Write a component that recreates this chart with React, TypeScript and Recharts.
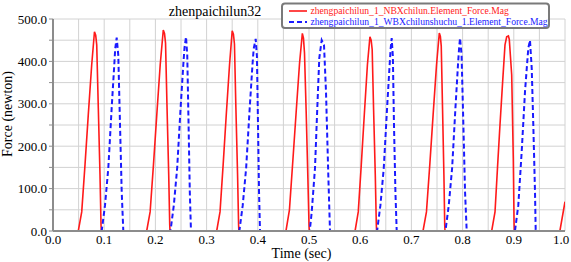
import { CartesianGrid, Line, LineChart, XAxis, YAxis } from 'recharts'

// time (sec), force (newton)
const nbxForce: [number, number][] = [
  [0, 0],
  [0.0494, 0], [0.0561, 45], [0.0625, 156], [0.0689, 274], [0.0756, 392], [0.081, 470],
  [0.0834, 462], [0.0854, 439], [0.0885, 290], [0.0918, 132], [0.0938, 14], [0.0943, 0],
  [0.183, 0], [0.1897, 45], [0.1962, 156], [0.2027, 274], [0.2094, 392], [0.2154, 474],
  [0.2178, 466], [0.2198, 443], [0.2227, 292], [0.226, 133], [0.228, 14], [0.2285, 0],
  [0.3197, 0], [0.3262, 45], [0.3323, 156], [0.3384, 274], [0.3448, 392], [0.35, 472],
  [0.3524, 464], [0.3544, 441], [0.3572, 291], [0.3605, 132], [0.3625, 14], [0.363, 0],
  [0.455, 0], [0.4618, 50], [0.4684, 165], [0.4749, 280], [0.4815, 395], [0.487, 466],
  [0.4892, 455], [0.4912, 420], [0.4945, 280], [0.4978, 125], [0.5, 14], [0.5006, 0],
  [0.59, 0], [0.5962, 45], [0.6021, 156], [0.608, 274], [0.6141, 392], [0.619, 458],
  [0.6214, 450], [0.6234, 428], [0.6262, 285], [0.6295, 130], [0.6315, 14], [0.632, 0],
  [0.7227, 0], [0.7294, 45], [0.7359, 156], [0.7424, 274], [0.7491, 392], [0.7545, 467],
  [0.7566, 459], [0.7583, 436], [0.7608, 290], [0.7635, 132], [0.7651, 14], [0.7656, 0],
  [0.8568, 0], [0.8633, 45], [0.8682, 150], [0.873, 250], [0.8781, 350], [0.8828, 439],
  [0.8861, 458], [0.8895, 460], [0.8912, 452], [0.8959, 368], [0.899, 172], [0.9005, 20], [0.901, 0],
  [0.99, 0], [1.0, 69],
]

const wbxForce: [number, number][] = [
  [0, 0],
  [0.0951, 0], [0.1016, 61], [0.108, 148], [0.1146, 290], [0.1197, 392], [0.1215, 430],
  [0.1244, 456], [0.1275, 415], [0.1309, 250], [0.1342, 92], [0.1373, 0],
  [0.2295, 0], [0.236, 61], [0.2425, 148], [0.2492, 290], [0.2545, 392], [0.2568, 432],
  [0.2598, 458], [0.2622, 415], [0.2648, 250], [0.2672, 92], [0.2695, 0],
  [0.364, 0], [0.3706, 61], [0.3772, 148], [0.3842, 290], [0.3896, 392], [0.392, 430],
  [0.3959, 453], [0.3983, 412], [0.4004, 250], [0.4024, 92], [0.4043, 0],
  [0.5015, 0], [0.5053, 45], [0.5117, 148], [0.5162, 290], [0.5201, 408], [0.5248, 450],
  [0.5293, 439], [0.5332, 329], [0.5377, 132], [0.541, 0],
  [0.633, 0], [0.6395, 61], [0.646, 148], [0.6525, 290], [0.6575, 392], [0.6595, 430],
  [0.6615, 455], [0.6638, 412], [0.666, 250], [0.6688, 92], [0.6713, 0],
  [0.7665, 0], [0.773, 61], [0.7795, 148], [0.786, 290], [0.791, 392], [0.7932, 432],
  [0.795, 455], [0.798, 415], [0.8015, 250], [0.8048, 92], [0.808, 0],
  [0.9023, 0], [0.9088, 61], [0.9154, 187], [0.9219, 329], [0.9283, 431], [0.9316, 450],
  [0.935, 384], [0.9381, 250], [0.9414, 93], [0.9428, 0],
  [1.0, 0],
]

const xTicks = [0, 0.05, 0.1, 0.15, 0.2, 0.25, 0.3, 0.35, 0.4, 0.45, 0.5, 0.55, 0.6, 0.65, 0.7, 0.75, 0.8, 0.85, 0.9, 0.95, 1.0]
const yTicks = [0, 50, 100, 150, 200, 250, 300, 350, 400, 450, 500]

const title = 'zhenpaichilun32'
const nbxName = 'zhengpaichilun_1_NBXchilun.Element_Force.Mag'
const wbxName = 'zhengpaichilun_1_WBXchilunshuchu_1.Element_Force.Mag'

const FONT = '"Liberation Serif", "Times New Roman", serif'
const AXIS = '#8c8c8c'

const toRows = (pts: [number, number][]) => pts.map(([t, f]) => ({ t, f }))

function TimeTick(props: any) {
  const { x, y, payload } = props
  const v: number = payload.value
  if (Math.round(v * 100) % 10 !== 0) return null
  // last label sits on the window edge, nudge it in
  const dx = v >= 1 ? -4 : 0
  return (
    <text x={x + dx} y={y} dy="0.71em" textAnchor="middle" fontFamily={FONT} fontSize={13} fill="#000">
      {v.toFixed(1)}
    </text>
  )
}

export default function App() {
  const tickStyle = { fontSize: 13, fontFamily: FONT, fill: '#000' }
  return (
    <div style={{ position: 'absolute', left: 0, top: 0, width: 571, height: 262, background: '#fff' }}>
      <LineChart width={571} height={262} margin={{ top: 19, right: 6, bottom: 0, left: 0 }}>
        <CartesianGrid stroke="#d2d2d2" strokeWidth={1} />
        <XAxis
          dataKey="t"
          type="number"
          domain={[0, 1]}
          ticks={xTicks}
          height={31}
          tickSize={0}
          tickMargin={4}
          tickLine={false}
          axisLine={{ stroke: AXIS, strokeWidth: 2 }}
          tick={<TimeTick />}
          interval={0}
          allowDataOverflow
        />
        <XAxis xAxisId="top" orientation="top" type="number" domain={[0, 1]} height={0} tick={false} tickLine={false} axisLine={{ stroke: AXIS, strokeWidth: 1.5 }} />
        <YAxis
          type="number"
          domain={[0, 500]}
          ticks={yTicks}
          width={53}
          tickSize={4}
          tickMargin={2}
          tickLine={{ stroke: AXIS }}
          axisLine={{ stroke: AXIS, strokeWidth: 2 }}
          tick={tickStyle}
          tickFormatter={(v: number) => (v % 100 === 0 ? v.toFixed(1) : '')}
          interval={0}
          allowDataOverflow
        />
        <YAxis yAxisId="right" orientation="right" type="number" domain={[0, 500]} width={0} tick={false} tickLine={false} axisLine={{ stroke: AXIS, strokeWidth: 1.5 }} />
        <Line
          data={toRows(nbxForce)}
          dataKey="f"
          type="linear"
          stroke="#ff1a1a"
          strokeWidth={1.6}
          dot={false}
          isAnimationActive={false}
        />
        <Line
          data={toRows(wbxForce)}
          dataKey="f"
          type="linear"
          stroke="#1a1aff"
          strokeWidth={2}
          strokeDasharray="5 3"
          dot={false}
          isAnimationActive={false}
        />
      </LineChart>
      <svg width={571} height={262} style={{ position: 'absolute', left: 0, top: 0, pointerEvents: 'none' }}>
        <text x={215} y={15.5} textAnchor="middle" fontFamily={FONT} fontSize={14} fill="#000">{title}</text>
        <text x={12} y={114} transform="rotate(-90 12 114)" textAnchor="middle" fontFamily={FONT} fontSize={14} fill="#000">Force (newton)</text>
        <text x={301.5} y={258} textAnchor="middle" fontFamily={FONT} fontSize={14} fill="#000">Time (sec)</text>
        <rect x={282} y={3.5} width={267} height={24.5} rx={3} fill="#fff" stroke="#7a7a7a" strokeWidth={2} />
        <line x1={289} y1={11} x2={307} y2={11} stroke="#ff1a1a" strokeWidth={1.6} />
        <text x={310.5} y={14} fontFamily={FONT} fontSize={9.6} fill="#ff1a1a">{nbxName}</text>
        <line x1={289} y1={22} x2={307} y2={22} stroke="#1a1aff" strokeWidth={2} strokeDasharray="5 3" />
        <text x={310.5} y={25} fontFamily={FONT} fontSize={9.6} fill="#1a1aff">{wbxName}</text>
      </svg>
    </div>
  )
}
